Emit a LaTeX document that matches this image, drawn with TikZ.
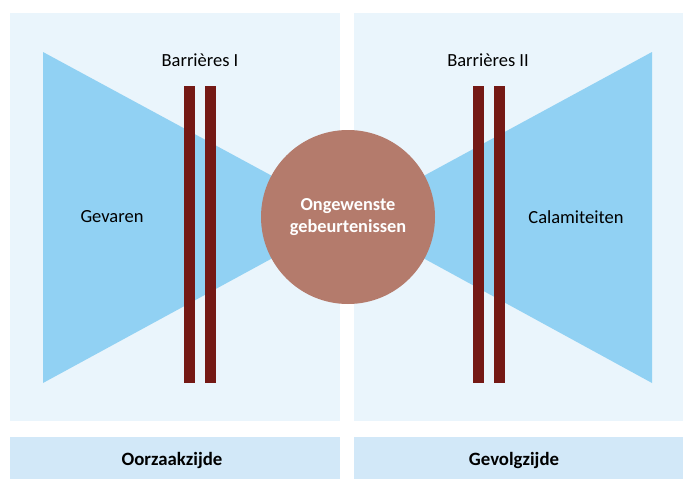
\documentclass[tikz,border=0pt]{standalone}
\usepackage{fontspec}
\setmainfont{Carlito}
\definecolor{panelblue}{HTML}{EAF5FC}
\definecolor{footblue}{HTML}{D2E8F8}
\definecolor{wedgeblue}{HTML}{91D1F3}
\definecolor{barred}{HTML}{741915}
\definecolor{eventbrown}{HTML}{B47B6C}
\tikzset{panel/.style={fill=panelblue}}
\tikzset{foot/.style={fill=footblue}}
\tikzset{wedge/.style={fill=wedgeblue}}
\tikzset{barrier/.style={fill=barred}}
\tikzset{tag/.style={font=\fontsize{18.5}{22}\selectfont,text=black,inner sep=0pt}}
\tikzset{footlabel/.style={tag,font=\fontsize{18.8}{22}\selectfont\bfseries}}
\tikzset{event/.style={circle,fill=eventbrown,minimum size=174pt,inner sep=0pt,
  align=center,text=white,font=\fontsize{18.3}{22}\selectfont\bfseries}}

\begin{document}
\begin{tikzpicture}[x=1pt,y=-1pt]
  \useasboundingbox (0,0) rectangle (683,479);
  % Panels
  \fill[panel] (10,13) rectangle (340,421);
  \fill[panel] (354,13) rectangle (683,421);
  \fill[foot] (10,437) rectangle (340,479);
  \fill[foot] (354,437) rectangle (683,479);
  % Wedges
  \coordinate (centre) at (348,217);
  \fill[wedge] (43,52) -- (centre) -- (43,383) -- cycle;
  \fill[wedge] (652,52) -- (centre) -- (652,383) -- cycle;
  % Barriers
  \foreach \x in {184,205,473,494}
    \fill[barrier] (\x,86) rectangle ++(11,297);
  % Event
  \node[event] (event) at (centre) {Ongewenste\\gebeurtenissen};
  % Labels
  \node[tag] (barrone) at (200,60) {Barrières I};
  \node[tag] (barrtwo) at (488,60) {Barrières II};
  \node[tag] (gevaren) at (112,217) {Gevaren};
  \node[tag] (calamiteiten) at (576,217) {Calamiteiten};
  \node[footlabel] (oorzaak) at (172,460) {Oorzaakzijde};
  \node[footlabel] (gevolg) at (514,460) {Gevolgzijde};
\end{tikzpicture}
\end{document}
